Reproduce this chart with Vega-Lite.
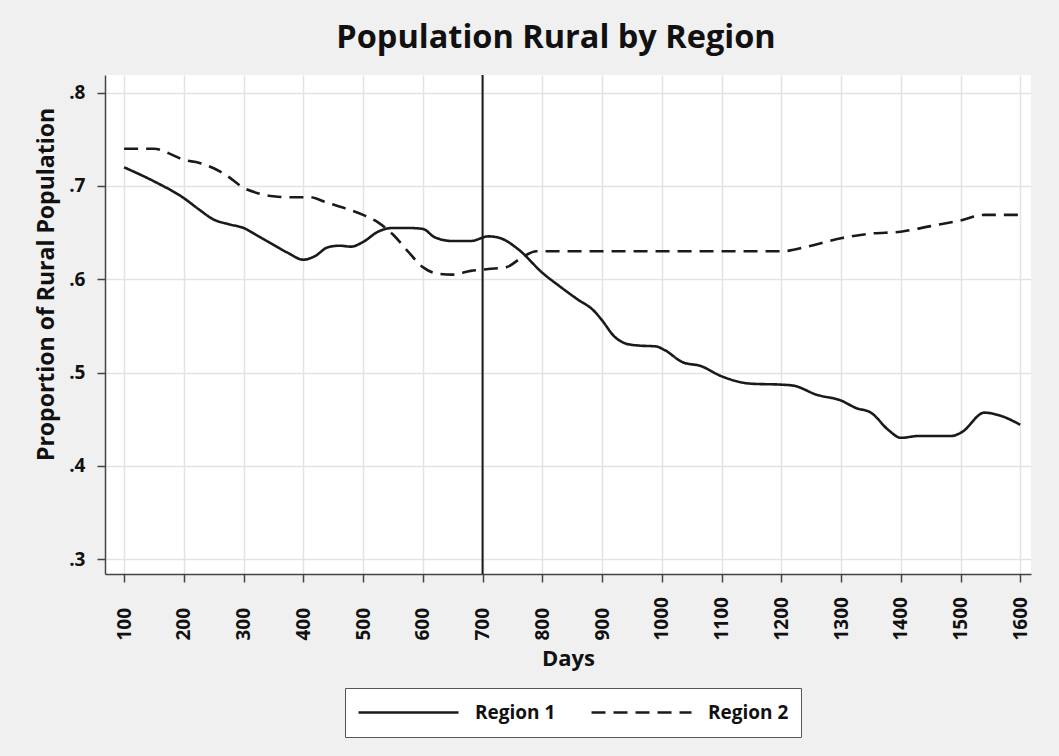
{
  "$schema": "https://vega.github.io/schema/vega-lite/v6.json",
  "width": 926,
  "height": 499,
  "autosize": {"type": "none"},
  "padding": {"left": 105, "top": 75, "right": 28, "bottom": 182},
  "background": "#f0f0f0",
  "config": {"view": {"fill": "white", "stroke": null}, "font": "Open Sans"},
  "title": {"text": "Population Rural by Region", "fontSize": 32.5, "fontWeight": "bold", "color": "#111", "frame": "group", "anchor": "middle", "dx": -12, "dy": 31, "offset": 25, "baseline": "alphabetic", "font": "Open Sans"},
  "datasets": {
    "series": [
      {"Days": 100, "Proportion": 0.720, "Region": "Region 1"},
      {"Days": 150, "Proportion": 0.705, "Region": "Region 1"},
      {"Days": 200, "Proportion": 0.687, "Region": "Region 1"},
      {"Days": 225, "Proportion": 0.675, "Region": "Region 1"},
      {"Days": 250, "Proportion": 0.664, "Region": "Region 1"},
      {"Days": 275, "Proportion": 0.659, "Region": "Region 1"},
      {"Days": 300, "Proportion": 0.655, "Region": "Region 1"},
      {"Days": 325, "Proportion": 0.646, "Region": "Region 1"},
      {"Days": 350, "Proportion": 0.637, "Region": "Region 1"},
      {"Days": 375, "Proportion": 0.628, "Region": "Region 1"},
      {"Days": 400, "Proportion": 0.621, "Region": "Region 1"},
      {"Days": 420, "Proportion": 0.625, "Region": "Region 1"},
      {"Days": 440, "Proportion": 0.634, "Region": "Region 1"},
      {"Days": 460, "Proportion": 0.636, "Region": "Region 1"},
      {"Days": 480, "Proportion": 0.635, "Region": "Region 1"},
      {"Days": 500, "Proportion": 0.640, "Region": "Region 1"},
      {"Days": 525, "Proportion": 0.651, "Region": "Region 1"},
      {"Days": 550, "Proportion": 0.655, "Region": "Region 1"},
      {"Days": 575, "Proportion": 0.655, "Region": "Region 1"},
      {"Days": 600, "Proportion": 0.654, "Region": "Region 1"},
      {"Days": 620, "Proportion": 0.645, "Region": "Region 1"},
      {"Days": 650, "Proportion": 0.641, "Region": "Region 1"},
      {"Days": 680, "Proportion": 0.641, "Region": "Region 1"},
      {"Days": 710, "Proportion": 0.646, "Region": "Region 1"},
      {"Days": 730, "Proportion": 0.644, "Region": "Region 1"},
      {"Days": 760, "Proportion": 0.632, "Region": "Region 1"},
      {"Days": 800, "Proportion": 0.607, "Region": "Region 1"},
      {"Days": 830, "Proportion": 0.592, "Region": "Region 1"},
      {"Days": 860, "Proportion": 0.578, "Region": "Region 1"},
      {"Days": 885, "Proportion": 0.567, "Region": "Region 1"},
      {"Days": 900, "Proportion": 0.556, "Region": "Region 1"},
      {"Days": 920, "Proportion": 0.539, "Region": "Region 1"},
      {"Days": 940, "Proportion": 0.531, "Region": "Region 1"},
      {"Days": 960, "Proportion": 0.529, "Region": "Region 1"},
      {"Days": 990, "Proportion": 0.528, "Region": "Region 1"},
      {"Days": 1005, "Proportion": 0.524, "Region": "Region 1"},
      {"Days": 1035, "Proportion": 0.511, "Region": "Region 1"},
      {"Days": 1065, "Proportion": 0.507, "Region": "Region 1"},
      {"Days": 1100, "Proportion": 0.496, "Region": "Region 1"},
      {"Days": 1150, "Proportion": 0.488, "Region": "Region 1"},
      {"Days": 1200, "Proportion": 0.487, "Region": "Region 1"},
      {"Days": 1220, "Proportion": 0.486, "Region": "Region 1"},
      {"Days": 1260, "Proportion": 0.476, "Region": "Region 1"},
      {"Days": 1300, "Proportion": 0.470, "Region": "Region 1"},
      {"Days": 1325, "Proportion": 0.462, "Region": "Region 1"},
      {"Days": 1350, "Proportion": 0.457, "Region": "Region 1"},
      {"Days": 1380, "Proportion": 0.438, "Region": "Region 1"},
      {"Days": 1400, "Proportion": 0.430, "Region": "Region 1"},
      {"Days": 1430, "Proportion": 0.432, "Region": "Region 1"},
      {"Days": 1485, "Proportion": 0.432, "Region": "Region 1"},
      {"Days": 1502, "Proportion": 0.436, "Region": "Region 1"},
      {"Days": 1540, "Proportion": 0.457, "Region": "Region 1"},
      {"Days": 1570, "Proportion": 0.453, "Region": "Region 1"},
      {"Days": 1600, "Proportion": 0.444, "Region": "Region 1"},
      {"Days": 100, "Proportion": 0.740, "Region": "Region 2"},
      {"Days": 150, "Proportion": 0.740, "Region": "Region 2"},
      {"Days": 175, "Proportion": 0.735, "Region": "Region 2"},
      {"Days": 200, "Proportion": 0.728, "Region": "Region 2"},
      {"Days": 225, "Proportion": 0.725, "Region": "Region 2"},
      {"Days": 250, "Proportion": 0.719, "Region": "Region 2"},
      {"Days": 270, "Proportion": 0.712, "Region": "Region 2"},
      {"Days": 300, "Proportion": 0.698, "Region": "Region 2"},
      {"Days": 325, "Proportion": 0.692, "Region": "Region 2"},
      {"Days": 350, "Proportion": 0.689, "Region": "Region 2"},
      {"Days": 375, "Proportion": 0.688, "Region": "Region 2"},
      {"Days": 410, "Proportion": 0.688, "Region": "Region 2"},
      {"Days": 440, "Proportion": 0.682, "Region": "Region 2"},
      {"Days": 470, "Proportion": 0.676, "Region": "Region 2"},
      {"Days": 500, "Proportion": 0.669, "Region": "Region 2"},
      {"Days": 525, "Proportion": 0.661, "Region": "Region 2"},
      {"Days": 550, "Proportion": 0.648, "Region": "Region 2"},
      {"Days": 575, "Proportion": 0.630, "Region": "Region 2"},
      {"Days": 600, "Proportion": 0.613, "Region": "Region 2"},
      {"Days": 625, "Proportion": 0.606, "Region": "Region 2"},
      {"Days": 650, "Proportion": 0.605, "Region": "Region 2"},
      {"Days": 680, "Proportion": 0.609, "Region": "Region 2"},
      {"Days": 710, "Proportion": 0.611, "Region": "Region 2"},
      {"Days": 740, "Proportion": 0.613, "Region": "Region 2"},
      {"Days": 765, "Proportion": 0.623, "Region": "Region 2"},
      {"Days": 790, "Proportion": 0.630, "Region": "Region 2"},
      {"Days": 800, "Proportion": 0.630, "Region": "Region 2"},
      {"Days": 1000, "Proportion": 0.630, "Region": "Region 2"},
      {"Days": 1200, "Proportion": 0.630, "Region": "Region 2"},
      {"Days": 1250, "Proportion": 0.636, "Region": "Region 2"},
      {"Days": 1300, "Proportion": 0.644, "Region": "Region 2"},
      {"Days": 1350, "Proportion": 0.649, "Region": "Region 2"},
      {"Days": 1400, "Proportion": 0.651, "Region": "Region 2"},
      {"Days": 1450, "Proportion": 0.657, "Region": "Region 2"},
      {"Days": 1500, "Proportion": 0.663, "Region": "Region 2"},
      {"Days": 1540, "Proportion": 0.669, "Region": "Region 2"},
      {"Days": 1600, "Proportion": 0.669, "Region": "Region 2"}
    ],
    "marker": [{"Days": 700}]
  },
  "layer": [
    {
      "data": {"name": "series"},
      "mark": {"type": "line", "interpolate": "monotone", "strokeWidth": 2.6, "color": "#1a1a1a"},
      "encoding": {
        "x": {
          "field": "Days", "type": "quantitative",
          "scale": {"domain": [68, 1618], "nice": false, "zero": false},
          "axis": {
            "values": [100, 200, 300, 400, 500, 600, 700, 800, 900, 1000, 1100, 1200, 1300, 1400, 1500, 1600],
            "format": "d",
            "title": "Days", "labelAngle": -90, "labelAlign": "left", "labelBaseline": "middle",
            "labelPadding": 58, "tickSize": 8, "labelFontSize": 19, "labelFontWeight": "bold", "labelColor": "#111",
            "titleFontSize": 22, "titleFontWeight": "bold", "titleColor": "#111", "titlePadding": 8,
            "grid": true, "gridColor": "#e3e3e3", "gridWidth": 1.5,
            "domainColor": "#444", "domainWidth": 1.5, "tickColor": "#444", "tickWidth": 1.5,
            "labelFlush": false, "labelOverlap": false
          }
        },
        "y": {
          "field": "Proportion", "type": "quantitative",
          "scale": {"domain": [0.284, 0.819], "nice": false, "zero": false},
          "axis": {
            "values": [0.3, 0.4, 0.5, 0.6, 0.7, 0.8],
            "labelExpr": "substring(format(datum.value, '.1f'), 1)",
            "title": "Proportion of Rural Population", "titleY": 209,
            "titleFontSize": 23, "titleFontWeight": "bold", "titleColor": "#111", "titlePadding": 10,
            "tickSize": 8, "labelPadding": 12, "labelFontSize": 19, "labelFontWeight": "bold", "labelColor": "#111",
            "grid": true, "gridColor": "#e3e3e3", "gridWidth": 1.5,
            "domainColor": "#444", "domainWidth": 1.5, "tickColor": "#444", "tickWidth": 1.5,
            "labelFlush": false
          }
        },
        "strokeDash": {
          "field": "Region", "type": "nominal",
          "scale": {"domain": ["Region 1", "Region 2"], "range": [[1, 0], [14, 8]]},
          "legend": {
            "orient": "none", "legendX": 240, "legendY": 613, "direction": "horizontal", "title": null,
            "symbolType": "stroke", "symbolSize": 10000, "symbolStrokeWidth": 2.5, "symbolStrokeColor": "#1a1a1a",
            "clipHeight": 25,
            "labelFontSize": 19, "labelFontWeight": "bold", "labelColor": "#111", "labelOffset": 15,
            "columnPadding": 34, "padding": 12, "strokeColor": "#555", "fillColor": "white"
          }
        }
      }
    },
    {
      "data": {"name": "marker"},
      "mark": {"type": "rule", "strokeWidth": 2, "color": "#1a1a1a"},
      "encoding": {"x": {"field": "Days", "type": "quantitative"}}
    }
  ]
}
